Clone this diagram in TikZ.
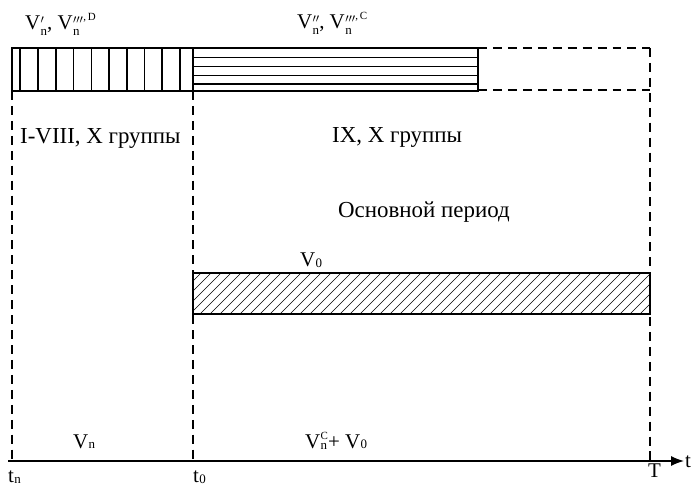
\documentclass[tikz,border=0pt]{standalone}
\usepackage{fontspec}
\setmainfont{Liberation Serif}
\usetikzlibrary{arrows.meta}
\newsavebox\mysupbox
\newsavebox\mysubbox
\newlength\myscriptwd
\newlength\mysupraise
\setlength\mysupraise{9.5pt}
\newcommand{\Vx}[4]{#1\kern0.4pt%
  \sbox\mysupbox{\fontsize{11}{11}\selectfont #2}%
  \sbox\mysubbox{\fontsize{13}{13}\selectfont #3}%
  \setlength\myscriptwd{\wd\mysubbox}%
  \ifdim\wd\mysupbox>\myscriptwd\setlength\myscriptwd{\wd\mysupbox}\fi
  \makebox[\myscriptwd][l]{\rlap{\raisebox{\mysupraise}{\usebox\mysupbox}}\raisebox{-#4}{\usebox\mysubbox}}}
\newcommand{\pr}[1]{\raisebox{-2.5pt}{\fontsize{18}{18}\selectfont$\scriptstyle#1$}}
\tikzset{
  solidedge/.style={line width=1.3pt},
  dashedge/.style={line width=1.2pt, dash pattern=on 9pt off 6pt},
  stripe/.style={line width=1.1pt},
  hatch/.style={line width=0.6pt},
  lbl/.style={anchor=base west, inner sep=0pt, font=\fontsize{23}{25}\selectfont},
  vlbl/.style={anchor=base west, inner sep=0pt, font=\fontsize{21}{23}\selectfont},
}
\begin{document}
\begin{tikzpicture}[x=1bp,y=-1bp]
\useasboundingbox (0,0) rectangle (695,492);
% vertical stripes block
\draw[solidedge] (12,48) rectangle (193,91);
\foreach \xx in {20,38,56,73.5,91.5,109,127,144.5,162,180}
  \draw[stripe] (\xx,48) -- (\xx,91);
% horizontal stripes block
\draw[solidedge] (193,48) rectangle (478,91);
\foreach \yy in {57.5,66.5,75.5,84}
  \draw[stripe] (193,\yy) -- (478,\yy);
% dashed extension
\draw[dashedge] (478,48) -- (650,48);
\draw[dashedge] (478,90) -- (650,90);
\draw[dashedge] (650,48) -- (650,461);
% dashed verticals
\draw[dashedge] (12,91) -- (12,461);
\draw[dashedge] (193,91) -- (193,461);
% V0 hatched box
\begin{scope}
\clip (193,273) rectangle (650,314);
\foreach \xx in {150,160,...,670}
  \draw[hatch] (\xx,314) -- (\xx+41,273);
\end{scope}
\draw[solidedge] (193,273) rectangle (650,314);
% axis
\coordinate (a0) at (8,461);
\coordinate (a1) at (684,461);
\draw[line width=1.4pt,-{Latex[length=13pt,width=10pt]}] (a0) -- (a1);
% labels
\node[vlbl] (lA) at (25,30) {\Vx{V}{\pr{\prime}}{n}{6pt}, \Vx{V}{\pr{\prime\prime\prime}\kern0.3pt,\,D}{n}{6pt}};
\node[vlbl] (lB) at (297,29) {\Vx{V}{\pr{\prime\prime}}{n}{6pt}, \Vx{V}{\pr{\prime\prime\prime}\kern0.3pt,\,C}{n}{6pt}};
\node[lbl] (g1) at (20,144) {I-VIII, X группы};
\node[lbl] (g2) at (332,143) {IX, X группы};
\node[lbl] (op) at (338,218) {Основной период};
\node[vlbl] (v0) at (300,267) {\Vx{V}{}{0}{0.5pt}};
\node[vlbl] (vn) at (73,448) {\Vx{V}{}{n}{1pt}};
\node[vlbl] (vc) at (305,448) {\setlength\mysupraise{9pt}\Vx{V}{C}{n}{1.5pt}+ \Vx{V}{}{0}{0.5pt}};
\node[vlbl] (tn) at (8,482) {\Vx{t}{}{n}{2pt}};
\node[vlbl] (t0) at (193,482) {\Vx{t}{}{0}{2pt}};
\node[vlbl] (TT) at (648,477) {T};
\node[vlbl] (tt) at (685,467) {t};
\end{tikzpicture}
\end{document}
